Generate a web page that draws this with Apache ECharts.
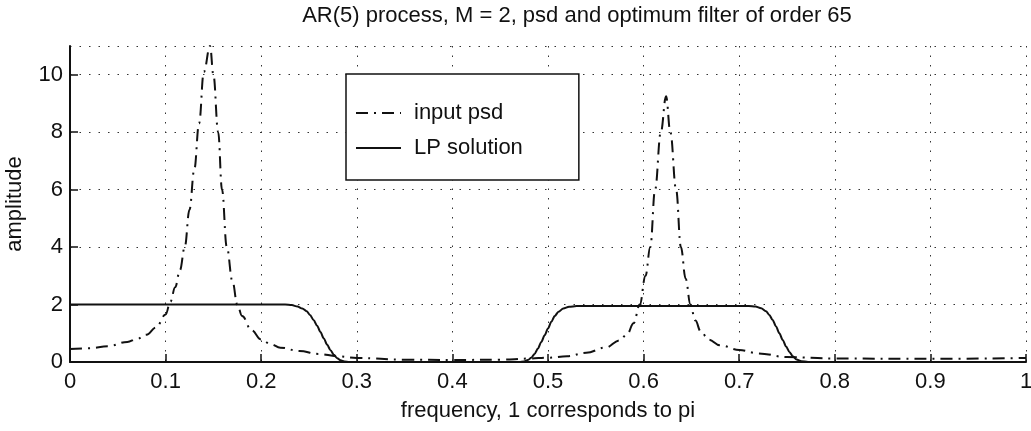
<!DOCTYPE html>
<html>
<head>
<meta charset="utf-8">
<script src="https://cdn.jsdelivr.net/npm/echarts@6/dist/echarts.min.js"></script>
<style>
  html, body { margin: 0; padding: 0; background: #fff; }
  #main { width: 1031px; height: 431px; }
</style>
</head>
<body>
<div id="main"></div>
<script>
// input psd
var psdFreq = [0, 0.02, 0.04, 0.06, 0.07, 0.08, 0.09, 0.1, 0.105, 0.11, 0.115, 0.12, 0.125, 0.13, 0.135, 0.14, 0.1465,
  0.15, 0.155, 0.159, 0.164, 0.17, 0.175, 0.18, 0.19, 0.2, 0.21, 0.22, 0.24, 0.26, 0.28, 0.3, 0.35, 0.4, 0.45, 0.48,
  0.5, 0.52, 0.54, 0.56, 0.575, 0.583, 0.5895, 0.596, 0.602, 0.607, 0.612, 0.618, 0.6235, 0.628, 0.634, 0.639, 0.644, 0.649,
  0.654, 0.66, 0.668, 0.68, 0.7, 0.72, 0.75, 0.8, 0.9, 1.0];
var psdAmp = [0.45, 0.48, 0.55, 0.7, 0.8, 0.95, 1.2, 1.65, 2.1, 2.6, 3.2, 4.0, 5.3, 6.7, 8.3, 10.1, 11.0,
  10.0, 8.0, 6.0, 4.0, 2.8, 2.0, 1.6, 1.1, 0.78, 0.62, 0.5, 0.38, 0.28, 0.2, 0.14, 0.08, 0.07, 0.08, 0.12,
  0.15, 0.2, 0.32, 0.5, 0.75, 0.98, 1.35, 2.0, 3.0, 4.0, 6.0, 8.0, 9.25, 8.0, 6.0, 4.0, 2.9, 2.0,
  1.45, 1.05, 0.78, 0.58, 0.42, 0.3, 0.17, 0.12, 0.11, 0.14];

// LP solution
var lpFreq = [0, 0.225, 0.232, 0.238, 0.243, 0.2475, 0.251, 0.255, 0.2585, 0.262, 0.2655, 0.269, 0.2725, 0.276,
  0.2795, 0.283, 0.287, 0.292, 0.47, 0.475, 0.479, 0.4825, 0.486, 0.4895, 0.493, 0.4965, 0.5, 0.5035, 0.507, 0.511,
  0.516, 0.522, 0.53, 0.71, 0.717, 0.723, 0.728, 0.7315, 0.735, 0.7385, 0.742, 0.7455, 0.749, 0.7525, 0.756, 0.76,
  0.765, 0.772, 1.0];
var lpAmp = [2.0, 2.0, 1.98, 1.93, 1.86, 1.77, 1.64, 1.45, 1.26, 1.04, 0.82, 0.6, 0.41, 0.25,
  0.13, 0.06, 0.02, 0, 0, 0.02, 0.07, 0.15, 0.28, 0.47, 0.7, 0.93, 1.17, 1.4, 1.6, 1.75,
  1.86, 1.92, 1.95, 1.95, 1.93, 1.87, 1.77, 1.64, 1.46, 1.24, 1.0, 0.77, 0.54, 0.35, 0.2, 0.09,
  0.03, 0, 0];

var seriesNames = ['input psd', 'LP solution'];

function pairs(xs, ys) {
  var out = [];
  for (var i = 0; i < xs.length; i++) out.push([xs[i], ys[i]]);
  return out;
}

var font = 'Liberation Sans, Arial, Helvetica, sans-serif';
var dotted = { color: '#333', width: 1, type: [1.5, 8] };

var myChart = echarts.init(document.getElementById('main'));
myChart.setOption({
  animation: false,
  backgroundColor: '#fff',
  title: {
    text: 'AR(5) process, M = 2, psd and optimum filter of order 65',
    left: 572,
    top: 0,
    textAlign: 'center',
    textStyle: { fontFamily: font, fontWeight: 'normal', fontSize: 22, color: '#111' }
  },
  legend: {
    orient: 'vertical',
    left: 346,
    top: 74,
    padding: [28, 56, 21, 9],
    itemGap: 13,
    itemWidth: 45,
    itemHeight: 22,
    backgroundColor: '#fff',
    borderColor: '#111',
    borderWidth: 1.5,
    borderRadius: 0,
    itemStyle: { opacity: 0 },
    textStyle: { fontFamily: font, fontSize: 22, color: '#111', padding: [0, 0, 0, 8] },
    data: seriesNames
  },
  grid: { left: 70, right: 5, top: 46, bottom: 69, outerBoundsMode: 'none' },
  xAxis: {
    type: 'value',
    min: 0,
    max: 1,
    interval: 0.1,
    name: 'frequency, 1 corresponds to pi',
    nameLocation: 'middle',
    nameGap: 38,
    nameTextStyle: { fontFamily: font, fontSize: 22, color: '#111' },
    axisLine: { lineStyle: { color: '#111', width: 2 } },
    axisTick: { inside: true, length: 8, lineStyle: { color: '#111', width: 1.5 } },
    axisLabel: { fontFamily: font, fontSize: 22, color: '#111', margin: 9 },
    splitLine: { show: true, lineStyle: dotted }
  },
  yAxis: {
    type: 'value',
    min: 0,
    max: 11,
    interval: 2,
    name: 'amplitude',
    nameLocation: 'middle',
    nameGap: 44,
    nameTextStyle: { fontFamily: font, fontSize: 22, color: '#111' },
    axisLine: { show: true, lineStyle: { color: '#111', width: 2 } },
    axisTick: { inside: true, length: 8, lineStyle: { color: '#111', width: 1.5 } },
    axisLabel: { fontFamily: font, fontSize: 22, color: '#111', margin: 7, showMaxLabel: false },
    splitLine: { show: true, lineStyle: dotted }
  },
  series: [
    {
      name: seriesNames[0],
      type: 'line',
      data: pairs(psdFreq, psdAmp),
      showSymbol: false,
      symbol: 'none',
      smooth: 0.4,
      smoothMonotone: 'x',
      lineStyle: { color: '#111', width: 2, type: [12, 6, 2, 6] },
      itemStyle: { color: '#111' },
      z: 3
    },
    {
      name: seriesNames[1],
      type: 'line',
      data: pairs(lpFreq, lpAmp),
      showSymbol: false,
      symbol: 'none',
      smooth: 0.3,
      smoothMonotone: 'x',
      lineStyle: { color: '#111', width: 2 },
      itemStyle: { color: '#111' },
      z: 2
    }
  ]
});
</script>
</body>
</html>
